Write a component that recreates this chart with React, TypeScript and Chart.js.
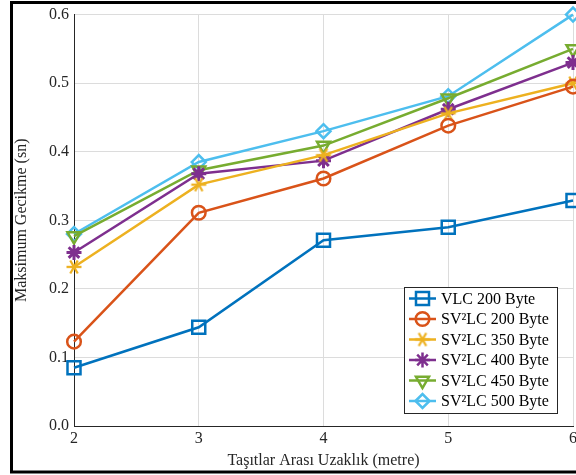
import React, { useEffect, useRef } from "react";
import { Chart, registerables } from "chart.js";
import { drawPoint } from "chart.js/helpers";

Chart.register(...registerables);

const distances = [2, 3, 4, 5, 6];
const seriesLabels = [
  "VLC 200 Byte",
  "SV²LC 200 Byte",
  "SV²LC 350 Byte",
  "SV²LC 400 Byte",
  "SV²LC 450 Byte",
  "SV²LC 500 Byte",
];
const vlc200 = [0.085, 0.144, 0.271, 0.29, 0.329];
const sv200 = [0.123, 0.311, 0.361, 0.438, 0.495];
const sv350 = [0.232, 0.352, 0.395, 0.456, 0.5];
const sv400 = [0.253, 0.368, 0.387, 0.462, 0.53];
const sv450 = [0.277, 0.373, 0.409, 0.478, 0.55];
const sv500 = [0.28, 0.385, 0.43, 0.481, 0.6];
const yTicks = [0, 0.1, 0.2, 0.3, 0.4, 0.5, 0.6];

const colors = ["#0072BD", "#D95319", "#EDB120", "#7E2F8E", "#77AC30", "#4DBEEE"];
const FONT = "'Liberation Serif', 'DejaVu Serif', serif";

function makeAsterisk(color: string): HTMLCanvasElement {
  const c = document.createElement("canvas");
  c.width = 18;
  c.height = 18;
  const g = c.getContext("2d")!;
  g.strokeStyle = color;
  g.lineWidth = 2.3;
  g.lineCap = "butt";
  const r = 7.5;
  for (const a of [0, Math.PI / 3, (2 * Math.PI) / 3]) {
    g.beginPath();
    g.moveTo(9 - r * Math.cos(a), 9 - r * Math.sin(a));
    g.lineTo(9 + r * Math.cos(a), 9 + r * Math.sin(a));
    g.stroke();
  }
  return c;
}

export default function App() {
  const ref = useRef<HTMLCanvasElement | null>(null);

  useEffect(() => {
    document.body.style.margin = "0";
    const asterisk = makeAsterisk(colors[2]);
    const styles: any[] = ["rect", "circle", asterisk, "star", "triangle", "rectRot"];
    const radii = [9.2, 6.8, 8, 7.5, 7.5, 7];
    const rotations = [0, 0, 0, 0, 180, 0];
    const values = [vlc200, sv200, sv350, sv400, sv450, sv500];

    const datasets = values.map((vals, i) => ({
      label: seriesLabels[i],
      data: distances.map((x, j) => ({ x, y: vals[j] })),
      borderColor: colors[i],
      backgroundColor: "transparent",
      borderWidth: 2.5,
      pointStyle: styles[i],
      pointRadius: radii[i],
      pointHoverRadius: radii[i],
      pointRotation: rotations[i],
      pointBorderColor: colors[i],
      pointBackgroundColor: "transparent",
      pointBorderWidth: i === 3 ? 3 : 2.5,
      tension: 0,
      clip: false as any,
    }));

    const legendPlugin = {
      id: "customLegend",
      afterDatasetsDraw(chart: any) {
        const ctx = chart.ctx;
        const left = 404.5, top = 287.5, w = 153, h = 126;
        ctx.save();
        ctx.fillStyle = "#ffffff";
        ctx.fillRect(left, top, w, h);
        ctx.strokeStyle = "#262626";
        ctx.lineWidth = 1;
        ctx.strokeRect(left, top, w, h);
        ctx.font = "16px " + FONT;
        ctx.textBaseline = "middle";
        ctx.textAlign = "left";
        for (let i = 0; i < seriesLabels.length; i++) {
          const y = 298.5 + i * 20.5;
          ctx.strokeStyle = colors[i];
          ctx.lineWidth = 2.5;
          ctx.beginPath();
          ctx.moveTo(409, y);
          ctx.lineTo(436, y);
          ctx.stroke();
          ctx.fillStyle = "transparent";
          drawPoint(
            ctx,
            {
              pointStyle: styles[i],
              rotation: rotations[i],
              borderWidth: i === 3 ? 3 : 2.5,
              radius: radii[i],
            } as any,
            422.5,
            y
          );
          ctx.fillStyle = "#000000";
          ctx.fillText(seriesLabels[i], 441, y + 1);
        }
        ctx.restore();
      },
    };

    const framePlugin = {
      id: "outerFrame",
      afterDraw(chart: any) {
        const ctx = chart.ctx;
        ctx.save();
        ctx.strokeStyle = "#000000";
        ctx.lineWidth = 3;
        ctx.strokeRect(11.5, 2.5, 600, 469.5);
        ctx.restore();
      },
    };

    const chart = new Chart(ref.current!, {
      type: "line",
      data: { datasets: datasets as any },
      options: {
        animation: false,
        responsive: false,
        layout: { padding: { top: 14, right: 27, left: 12, bottom: 0 } },
        plugins: {
          legend: { display: false },
          tooltip: { enabled: false },
        },
        scales: {
          x: {
            type: "linear",
            min: 2,
            max: 6,
            afterBuildTicks(axis: any) {
              axis.ticks = distances.map((v) => ({ value: v }));
            },
            ticks: {
              stepSize: 1,
              color: "#262626",
              font: { family: FONT, size: 16 },
              padding: 3,
              maxRotation: 0,
            },
            grid: { color: "#dcdcdc", drawTicks: false, lineWidth: 1 },
            border: { color: "#262626", width: 1 },
            title: {
              display: true,
              text: "Taşıtlar Arası Uzaklık (metre)",
              color: "#262626",
              font: { family: FONT, size: 16 },
              padding: { top: 0, bottom: 5 },
            },
            afterFit(axis: any) {
              axis.height = 49;
            },
          },
          y: {
            type: "linear",
            min: 0,
            max: 0.6,
            afterBuildTicks(axis: any) {
              axis.ticks = yTicks.map((v) => ({ value: v }));
            },
            ticks: {
              stepSize: 0.1,
              color: "#262626",
              font: { family: FONT, size: 16 },
              padding: 5,
              callback: (v: any) => Number(v).toFixed(1),
            },
            grid: { color: "#dcdcdc", drawTicks: false, lineWidth: 1 },
            border: { color: "#262626", width: 1 },
            title: {
              display: true,
              text: "Maksimum Gecikme (sn)",
              color: "#262626",
              font: { family: FONT, size: 16 },
              padding: { top: 0, bottom: 4 },
            },
            afterFit(axis: any) {
              axis.width = 62;
            },
          },
        },
      },
      plugins: [legendPlugin, framePlugin],
    });
    return () => chart.destroy();
  }, []);

  return (
    <div style={{ position: "absolute", left: 0, top: 0, width: 576, height: 475, overflow: "hidden", background: "#fff" }}>
      <canvas ref={ref} width={600} height={475} style={{ display: "block" }} />
    </div>
  );
}
